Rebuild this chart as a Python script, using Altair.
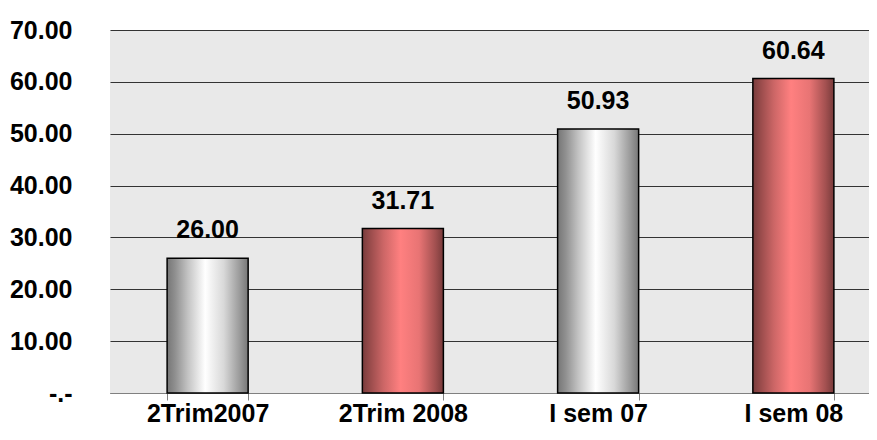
import altair as alt
import pandas as pd

categories = ["2Trim2007", "2Trim 2008", "I sem 07", "I sem 08"]
values = [26.00, 31.71, 50.93, 60.64]
kinds = ["gray", "red", "gray", "red"]
y_ticks = [0, 10, 20, 30, 40, 50, 60, 70]

df = pd.DataFrame({"cat": categories, "val": values, "kind": kinds})

FONT = "Liberation Sans"

gray_grad = alt.Gradient(
    gradient="linear", x1=0, x2=1, y1=0, y2=0,
    stops=[
        alt.GradientStop(color="#767676", offset=0),
        alt.GradientStop(color="#909090", offset=0.1),
        alt.GradientStop(color="#c4c4c4", offset=0.26),
        alt.GradientStop(color="#ffffff", offset=0.47),
        alt.GradientStop(color="#d8d8d8", offset=0.7),
        alt.GradientStop(color="#999999", offset=0.9),
        alt.GradientStop(color="#777777", offset=1),
    ],
)
red_grad = alt.Gradient(
    gradient="linear", x1=0, x2=1, y1=0, y2=0,
    stops=[
        alt.GradientStop(color="#783c3c", offset=0),
        alt.GradientStop(color="#9a4c4c", offset=0.1),
        alt.GradientStop(color="#cc6666", offset=0.26),
        alt.GradientStop(color="#ff8080", offset=0.47),
        alt.GradientStop(color="#e87474", offset=0.7),
        alt.GradientStop(color="#a25050", offset=0.9),
        alt.GradientStop(color="#783b3b", offset=1),
    ],
)

x_enc = alt.X(
    "cat:N",
    sort=categories,
    title=None,
    scale=alt.Scale(range=[0, 781], paddingInner=0.585, paddingOuter=0.2925),
    axis=alt.Axis(
        labelAngle=0,
        labelFont=FONT,
        labelFontSize=25,
        labelFontWeight="bold",
        labelColor="#000000",
        labelPadding=1,
        tickSize=7,
        tickColor="#808080",
        domainColor="#808080",
        tickBand="extent",
        grid=False,
    ),
)
y_enc = alt.Y(
    "val:Q",
    title=None,
    scale=alt.Scale(domain=[0, 70], nice=False),
    axis=alt.Axis(
        values=y_ticks,
        labelExpr="datum.value == 0 ? '-.-\u00a0' : format(datum.value, '.2f')",
        labelFont=FONT,
        labelFontSize=25,
        labelFontWeight="bold",
        labelColor="#000000",
        labelPadding=38,
        ticks=False,
        domain=False,
        grid=True,
        gridColor="#333333",
        gridWidth=1,
    ),
)

base = alt.Chart(df)

gray_bars = base.transform_filter(alt.datum.kind == "gray").mark_bar(
    color=gray_grad, stroke="#000000", strokeWidth=1.5
).encode(x=x_enc, y=y_enc)

red_bars = base.transform_filter(alt.datum.kind == "red").mark_bar(
    color=red_grad, stroke="#000000", strokeWidth=1.5
).encode(x=x_enc, y=y_enc)

labels = base.mark_text(
    font=FONT, fontSize=25, fontWeight="bold", color="#000000",
    baseline="alphabetic", dy=-20,
).encode(x=x_enc, y=y_enc, text=alt.Text("val:Q", format=".2f"))

chart = (
    alt.layer(gray_bars, red_bars, labels)
    .properties(
        width=759,
        height=363,
        autosize=alt.AutoSizeParams(type="none"),
        padding={"left": 102, "top": 22, "right": 0, "bottom": 33},
        background="#ffffff",
    )
    .configure_view(fill="#e9e9e9", stroke=None)
)

chart.save("out.html", embed_options={"renderer": "svg", "actions": False})
